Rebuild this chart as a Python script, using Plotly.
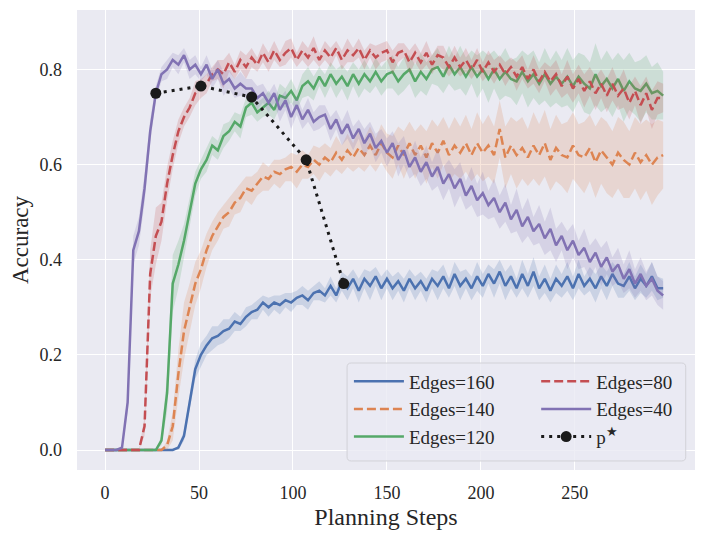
import numpy as np
import plotly.graph_objs as go

# planning steps, sampled every 3 steps
steps = np.arange(0, 300, 3)

edges_40 = [
    0.0, 0.0, 0.0, 0.005, 0.10, 0.42, 0.46, 0.55, 0.67, 0.75,
    0.79, 0.80, 0.82, 0.81, 0.83, 0.80, 0.81, 0.79, 0.81, 0.78,
    0.80, 0.77, 0.78, 0.76, 0.77, 0.76, 0.76, 0.74, 0.75, 0.73,
    0.75, 0.715, 0.735, 0.70, 0.725, 0.695, 0.715, 0.69, 0.70, 0.705,
    0.675, 0.695, 0.665, 0.685, 0.655, 0.675, 0.645, 0.665, 0.635, 0.65,
    0.625, 0.645, 0.61, 0.63, 0.595, 0.615, 0.585, 0.605, 0.575, 0.595,
    0.56, 0.58, 0.55, 0.57, 0.535, 0.555, 0.525, 0.54, 0.515, 0.53,
    0.50, 0.52, 0.485, 0.505, 0.47, 0.49, 0.46, 0.475, 0.445, 0.465,
    0.43, 0.45, 0.42, 0.44, 0.41, 0.425, 0.395, 0.415, 0.385, 0.405,
    0.375, 0.39, 0.36, 0.38, 0.35, 0.37, 0.345, 0.36, 0.335, 0.325,
]
edges_40_sd = [
    0, 0, 0, 0.005, 0.02, 0.03, 0.03, 0.03, 0.025, 0.015,
    0.015, 0.02, 0.015, 0.02, 0.015, 0.02, 0.02, 0.015, 0.02, 0.02,
    0.02, 0.025, 0.02, 0.02, 0.025, 0.02, 0.02, 0.025, 0.02, 0.02,
    0.02, 0.025, 0.02, 0.025, 0.02, 0.02, 0.025, 0.02, 0.025, 0.02,
    0.025, 0.02, 0.025, 0.03, 0.025, 0.02, 0.03, 0.025, 0.03, 0.025,
    0.03, 0.025, 0.035, 0.03, 0.025, 0.035, 0.03, 0.035, 0.03, 0.04,
    0.035, 0.03, 0.04, 0.035, 0.03, 0.04, 0.035, 0.045, 0.03, 0.04,
    0.035, 0.04, 0.03, 0.045, 0.035, 0.04, 0.03, 0.04, 0.035, 0.045,
    0.035, 0.03, 0.04, 0.035, 0.03, 0.04, 0.035, 0.03, 0.04, 0.035,
    0.03, 0.035, 0.03, 0.04, 0.03, 0.035, 0.03, 0.035, 0.03, 0.03,
]

edges_80 = [
    0.0, 0.0, 0.0, 0.0, 0.0, 0.0, 0.0, 0.05, 0.37, 0.45,
    0.48, 0.56, 0.62, 0.67, 0.70, 0.72, 0.75, 0.76, 0.77, 0.79,
    0.80, 0.79, 0.815, 0.795, 0.82, 0.805, 0.825, 0.81, 0.835, 0.815,
    0.84, 0.82, 0.835, 0.845, 0.82, 0.84, 0.825, 0.845, 0.82, 0.84,
    0.825, 0.845, 0.82, 0.84, 0.83, 0.845, 0.82, 0.84, 0.825, 0.835,
    0.84, 0.815, 0.835, 0.84, 0.815, 0.835, 0.815, 0.835, 0.81, 0.83,
    0.825, 0.805, 0.825, 0.805, 0.82, 0.80, 0.82, 0.795, 0.815, 0.795,
    0.81, 0.79, 0.805, 0.785, 0.805, 0.78, 0.80, 0.775, 0.795, 0.775,
    0.79, 0.765, 0.785, 0.76, 0.78, 0.755, 0.775, 0.75, 0.77, 0.745,
    0.77, 0.745, 0.76, 0.73, 0.755, 0.725, 0.75, 0.715, 0.74, 0.74,
]
edges_80_sd = [
    0, 0, 0, 0, 0, 0, 0, 0.02, 0.05, 0.06,
    0.04, 0.035, 0.03, 0.025, 0.02, 0.02, 0.025, 0.02, 0.02, 0.015,
    0.02, 0.03, 0.02, 0.015, 0.02, 0.025, 0.02, 0.015, 0.02, 0.02,
    0.02, 0.015, 0.025, 0.02, 0.015, 0.02, 0.02, 0.025, 0.015, 0.02,
    0.02, 0.015, 0.02, 0.025, 0.015, 0.02, 0.02, 0.015, 0.025, 0.02,
    0.02, 0.025, 0.02, 0.015, 0.025, 0.02, 0.02, 0.025, 0.02, 0.02,
    0.025, 0.02, 0.025, 0.02, 0.025, 0.02, 0.025, 0.02, 0.025, 0.025,
    0.02, 0.025, 0.02, 0.03, 0.025, 0.02, 0.03, 0.025, 0.02, 0.03,
    0.03, 0.025, 0.035, 0.03, 0.03, 0.035, 0.03, 0.035, 0.03, 0.035,
    0.035, 0.03, 0.04, 0.035, 0.03, 0.04, 0.035, 0.04, 0.035, 0.03,
]

edges_120 = [
    0.0, 0.0, 0.0, 0.0, 0.0, 0.0, 0.0, 0.0, 0.0, 0.0,
    0.02, 0.12, 0.35, 0.39, 0.44, 0.50, 0.56, 0.59, 0.61, 0.64,
    0.63, 0.66, 0.67, 0.69, 0.68, 0.72, 0.73, 0.71, 0.72, 0.73,
    0.715, 0.745, 0.74, 0.755, 0.735, 0.765, 0.775, 0.76, 0.785, 0.765,
    0.79, 0.77, 0.785, 0.765, 0.79, 0.77, 0.79, 0.775, 0.795, 0.775,
    0.79, 0.795, 0.775, 0.79, 0.80, 0.775, 0.795, 0.78, 0.80, 0.805,
    0.785, 0.81, 0.79, 0.805, 0.785, 0.805, 0.785, 0.80, 0.78, 0.80,
    0.78, 0.795, 0.78, 0.775, 0.795, 0.775, 0.79, 0.77, 0.79, 0.77,
    0.785, 0.77, 0.785, 0.765, 0.785, 0.77, 0.76, 0.79, 0.765, 0.78,
    0.76, 0.78, 0.755, 0.775, 0.76, 0.755, 0.77, 0.75, 0.755, 0.745,
]
edges_120_sd = [
    0, 0, 0, 0, 0, 0, 0, 0, 0, 0,
    0.01, 0.04, 0.06, 0.05, 0.035, 0.03, 0.025, 0.02, 0.025, 0.02,
    0.02, 0.025, 0.02, 0.02, 0.025, 0.02, 0.025, 0.02, 0.02, 0.025,
    0.02, 0.025, 0.02, 0.025, 0.02, 0.025, 0.03, 0.025, 0.02, 0.025,
    0.025, 0.03, 0.025, 0.03, 0.025, 0.03, 0.03, 0.025, 0.03, 0.03,
    0.03, 0.035, 0.03, 0.035, 0.03, 0.035, 0.04, 0.035, 0.03, 0.04,
    0.035, 0.04, 0.035, 0.045, 0.04, 0.035, 0.045, 0.04, 0.05, 0.04,
    0.045, 0.05, 0.04, 0.05, 0.045, 0.055, 0.05, 0.045, 0.055, 0.05,
    0.055, 0.05, 0.06, 0.055, 0.05, 0.06, 0.055, 0.065, 0.055, 0.06,
    0.06, 0.055, 0.065, 0.06, 0.055, 0.065, 0.06, 0.055, 0.06, 0.05,
]

edges_140 = [
    0.0, 0.0, 0.0, 0.0, 0.0, 0.0, 0.0, 0.0, 0.0, 0.0,
    0.0, 0.01, 0.05, 0.16, 0.25, 0.30, 0.35, 0.38, 0.42, 0.45,
    0.47, 0.49, 0.50, 0.52, 0.53, 0.55, 0.545, 0.56, 0.575, 0.57,
    0.585, 0.58, 0.59, 0.595, 0.585, 0.60, 0.595, 0.61, 0.60, 0.615,
    0.605, 0.625, 0.61, 0.63, 0.615, 0.635, 0.62, 0.64, 0.62, 0.645,
    0.625, 0.615, 0.64, 0.62, 0.645, 0.62, 0.64, 0.615, 0.645, 0.625,
    0.65, 0.62, 0.64, 0.625, 0.645, 0.62, 0.645, 0.625, 0.64, 0.62,
    0.675, 0.615, 0.64, 0.62, 0.635, 0.615, 0.64, 0.62, 0.645, 0.61,
    0.635, 0.62, 0.615, 0.64, 0.62, 0.615, 0.635, 0.605, 0.63, 0.615,
    0.60, 0.625, 0.61, 0.60, 0.625, 0.605, 0.62, 0.60, 0.615, 0.62,
]
edges_140_sd = [
    0, 0, 0, 0, 0, 0, 0, 0, 0, 0,
    0, 0.01, 0.03, 0.05, 0.06, 0.05, 0.045, 0.04, 0.035, 0.03,
    0.03, 0.025, 0.03, 0.025, 0.03, 0.025, 0.03, 0.025, 0.03, 0.025,
    0.025, 0.03, 0.025, 0.03, 0.035, 0.03, 0.025, 0.03, 0.035, 0.03,
    0.03, 0.035, 0.03, 0.035, 0.03, 0.04, 0.035, 0.04, 0.035, 0.04,
    0.04, 0.045, 0.04, 0.05, 0.045, 0.05, 0.045, 0.055, 0.05, 0.055,
    0.05, 0.055, 0.06, 0.055, 0.06, 0.055, 0.065, 0.06, 0.065, 0.06,
    0.06, 0.065, 0.06, 0.07, 0.065, 0.06, 0.07, 0.065, 0.07, 0.065,
    0.07, 0.065, 0.075, 0.07, 0.065, 0.075, 0.07, 0.075, 0.07, 0.075,
    0.07, 0.075, 0.08, 0.07, 0.075, 0.08, 0.075, 0.085, 0.08, 0.07,
]

edges_160 = [
    0.0, 0.0, 0.0, 0.0, 0.0, 0.0, 0.0, 0.0, 0.0, 0.0,
    0.0, 0.0, 0.0, 0.005, 0.03, 0.10, 0.17, 0.20, 0.22, 0.235,
    0.24, 0.25, 0.255, 0.27, 0.265, 0.28, 0.29, 0.295, 0.31, 0.30,
    0.31, 0.305, 0.315, 0.31, 0.32, 0.325, 0.315, 0.33, 0.335, 0.325,
    0.345, 0.325, 0.355, 0.34, 0.36, 0.335, 0.36, 0.345, 0.365, 0.34,
    0.36, 0.34, 0.355, 0.335, 0.36, 0.34, 0.355, 0.335, 0.36, 0.345,
    0.365, 0.34, 0.37, 0.345, 0.36, 0.34, 0.365, 0.345, 0.37, 0.35,
    0.375, 0.345, 0.365, 0.34, 0.37, 0.345, 0.375, 0.34, 0.36, 0.335,
    0.36, 0.345, 0.365, 0.34, 0.37, 0.345, 0.36, 0.34, 0.365, 0.345,
    0.37, 0.35, 0.345, 0.365, 0.34, 0.36, 0.345, 0.365, 0.34, 0.34,
]
edges_160_sd = [
    0, 0, 0, 0, 0, 0, 0, 0, 0, 0,
    0, 0, 0, 0.005, 0.01, 0.015, 0.02, 0.025, 0.02, 0.025,
    0.02, 0.025, 0.02, 0.02, 0.015, 0.02, 0.015, 0.02, 0.015, 0.02,
    0.015, 0.02, 0.015, 0.02, 0.015, 0.02, 0.02, 0.015, 0.02, 0.015,
    0.02, 0.015, 0.02, 0.025, 0.02, 0.025, 0.02, 0.03, 0.02, 0.025,
    0.02, 0.025, 0.02, 0.025, 0.02, 0.025, 0.02, 0.025, 0.02, 0.03,
    0.025, 0.02, 0.025, 0.03, 0.02, 0.025, 0.03, 0.025, 0.02, 0.03,
    0.025, 0.03, 0.025, 0.02, 0.03, 0.025, 0.03, 0.025, 0.03, 0.025,
    0.03, 0.025, 0.03, 0.025, 0.03, 0.02, 0.025, 0.03, 0.025, 0.03,
    0.025, 0.03, 0.025, 0.03, 0.025, 0.03, 0.025, 0.03, 0.025, 0.02,
]

# best step per setting
pstar_steps = [27, 51, 78, 107, 127]
pstar_acc = [0.75, 0.765, 0.742, 0.61, 0.35]

FONT = "Liberation Serif"
TEXT = "#262626"

# name, mean, sd, colour, dash, which legend column
series = [
    ("Edges=160", edges_160, edges_160_sd, (76, 114, 176), "solid", "legend"),
    ("Edges=140", edges_140, edges_140_sd, (221, 132, 82), "9px,4px", "legend"),
    ("Edges=120", edges_120, edges_120_sd, (85, 168, 104), "solid", "legend"),
    ("Edges=80", edges_80, edges_80_sd, (196, 78, 82), "9px,4px", "legend2"),
    ("Edges=40", edges_40, edges_40_sd, (129, 114, 179), "solid", "legend2"),
]

fig = go.Figure()

for name, mean, sd, rgb, dash, leg in series:
    mean = np.array(mean)
    sd = np.array(sd)
    upper = mean + sd
    lower = mean - sd
    fig.add_trace(go.Scatter(
        x=np.concatenate([steps, steps[::-1]]),
        y=np.concatenate([upper, lower[::-1]]),
        fill="toself",
        fillcolor="rgba(%d,%d,%d,0.2)" % rgb,
        line=dict(width=0),
        mode="lines",
        showlegend=False,
        hoverinfo="skip",
    ))
    fig.add_trace(go.Scatter(
        x=steps,
        y=mean,
        mode="lines",
        name=name,
        legend=leg,
        legendgroup=name,
        line=dict(color="rgb(%d,%d,%d)" % rgb, width=2.5, dash=dash),
    ))

fig.add_trace(go.Scatter(
    x=pstar_steps,
    y=pstar_acc,
    mode="lines+markers",
    name="p<sup>★</sup>",
    legend="legend2",
    legendgroup="pstar",
    line=dict(color="#1a1a1a", width=3, dash="3px,5px"),
    marker=dict(color="#1a1a1a", size=11),
))

# legend frame drawn as a rounded box (paper coordinates)
bx0, bx1, by0, by1 = 0.437, 0.985, 0.0196, 0.2326
rx, ry = 0.007, 0.009
frame = (
    "M %f,%f L %f,%f Q %f,%f %f,%f L %f,%f Q %f,%f %f,%f "
    "L %f,%f Q %f,%f %f,%f L %f,%f Q %f,%f %f,%f Z"
) % (
    bx0 + rx, by0, bx1 - rx, by0, bx1, by0, bx1, by0 + ry,
    bx1, by1 - ry, bx1, by1, bx1 - rx, by1,
    bx0 + rx, by1, bx0, by1, bx0, by1 - ry,
    bx0, by0 + ry, bx0, by0, bx0 + rx, by0,
)
fig.add_shape(
    type="path", path=frame, xref="paper", yref="paper", layer="above",
    fillcolor="rgba(234,234,242,0.8)", line=dict(color="#d2d2d8", width=1),
)

legend_common = dict(
    bgcolor="rgba(0,0,0,0)",
    borderwidth=0,
    font=dict(family=FONT, size=19, color=TEXT),
    traceorder="grouped",
    tracegroupgap=0,
    itemwidth=50,
    yanchor="top",
    xanchor="left",
    y=0.234,
)

fig.update_layout(
    width=697,
    height=532,
    margin=dict(l=69, r=10, t=2, b=70),
    paper_bgcolor="white",
    plot_bgcolor="#EAEAF2",
    font=dict(family=FONT, size=18, color=TEXT),
    legend=dict(x=0.440, **legend_common),
    legend2=dict(x=0.743, **legend_common),
    xaxis=dict(
        range=[-14.95, 313.95],
        tickvals=[0, 50, 100, 150, 200, 250],
        showgrid=True,
        gridcolor="white",
        gridwidth=1.3,
        zeroline=False,
        showline=False,
        ticklabelstandoff=10,
        tickfont=dict(family=FONT, size=18, color=TEXT),
        title=dict(text="Planning Steps", font=dict(family=FONT, size=24, color=TEXT), standoff=6),
    ),
    yaxis=dict(
        range=[-0.042, 0.925],
        tickvals=[0.0, 0.2, 0.4, 0.6, 0.8],
        tickformat=".1f",
        showgrid=True,
        gridcolor="white",
        gridwidth=1.3,
        zeroline=False,
        showline=False,
        ticklabelstandoff=14,
        tickfont=dict(family=FONT, size=18, color=TEXT),
        title=dict(text="Accuracy", font=dict(family=FONT, size=23, color=TEXT), standoff=10),
    ),
)

fig.write_html("out.html")
